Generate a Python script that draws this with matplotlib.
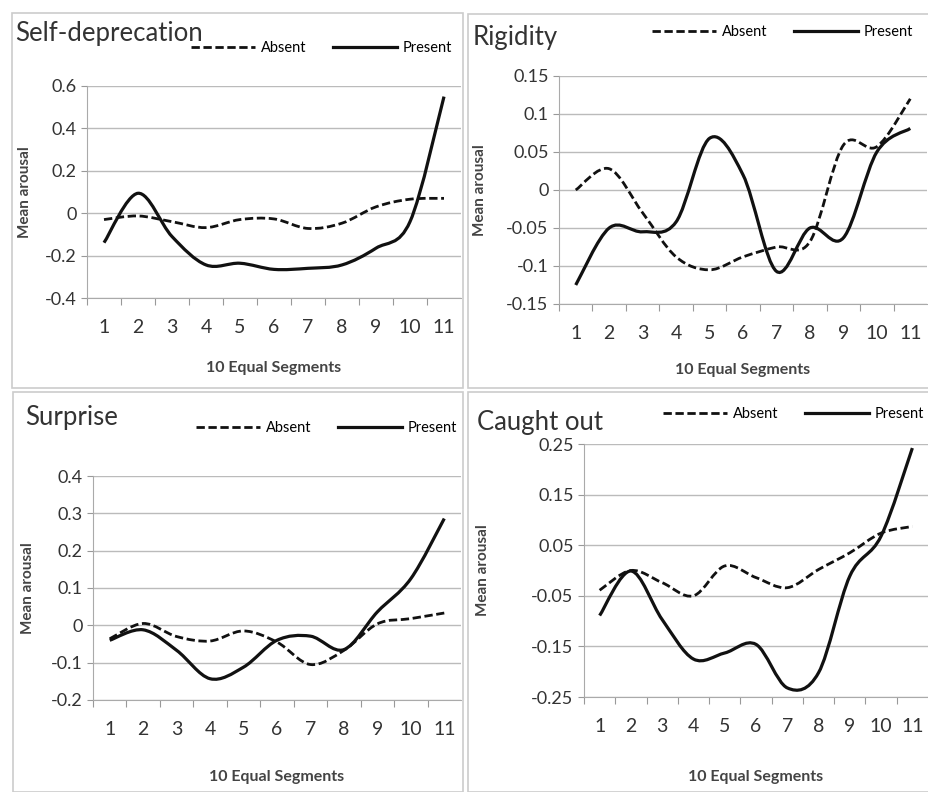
import matplotlib.pyplot as plt
from matplotlib.path import Path
from matplotlib.patches import PathPatch, Rectangle
from matplotlib.lines import Line2D

W, H = 929, 792

# segments on the x axis
segments = [1, 2, 3, 4, 5, 6, 7, 8, 9, 10, 11]

# mean arousal values
selfdep_absent = [-0.03, -0.013, -0.04, -0.068, -0.03, -0.027, -0.072, -0.047, 0.03, 0.066, 0.07]
selfdep_present = [-0.139, 0.094, -0.11, -0.244, -0.236, -0.265, -0.26, -0.244, -0.165, -0.04, 0.55]

rigidity_absent = [0.0, 0.028, -0.03, -0.088, -0.105, -0.088, -0.075, -0.068, 0.059, 0.057, 0.12]
rigidity_present = [-0.125, -0.05, -0.055, -0.042, 0.068, 0.02, -0.107, -0.05, -0.063, 0.05, 0.081]

surprise_absent = [-0.036, 0.005, -0.03, -0.042, -0.015, -0.045, -0.105, -0.067, 0.004, 0.018, 0.033]
surprise_present = [-0.04, -0.012, -0.067, -0.143, -0.112, -0.04, -0.029, -0.065, 0.036, 0.125, 0.286]

caught_absent = [-0.039, 0.0, -0.024, -0.05, 0.009, -0.014, -0.034, 0.002, 0.035, 0.074, 0.087]
caught_present = [-0.089, -0.001, -0.097, -0.175, -0.163, -0.146, -0.232, -0.202, -0.011, 0.068, 0.242]

# y tick values for each panel
selfdep_ticks = [-0.4, -0.2, 0, 0.2, 0.4, 0.6]
selfdep_labels = ["-0.4", "-0.2", "0", "0.2", "0.4", "0.6"]
rigidity_ticks = [-0.15, -0.1, -0.05, 0, 0.05, 0.1, 0.15]
rigidity_labels = ["-0.15", "-0.1", "-0.05", "0", "0.05", "0.1", "0.15"]
surprise_ticks = [-0.2, -0.1, 0, 0.1, 0.2, 0.3, 0.4]
surprise_labels = ["-0.2", "-0.1", "0", "0.1", "0.2", "0.3", "0.4"]
caught_ticks = [-0.25, -0.15, -0.05, 0.05, 0.15, 0.25]
caught_labels = ["-0.25", "-0.15", "-0.05", "0.05", "0.15", "0.25"]


def smooth_path(xs, ys):
    # excel style smoothed line: bezier through every point
    n = len(xs)
    verts = [(xs[0], ys[0])]
    codes = [Path.MOVETO]
    for i in range(n - 1):
        x0, y0 = xs[max(i - 1, 0)], ys[max(i - 1, 0)]
        x1, y1 = xs[i], ys[i]
        x2, y2 = xs[i + 1], ys[i + 1]
        x3, y3 = xs[min(i + 2, n - 1)], ys[min(i + 2, n - 1)]
        c1 = (x1 + (x2 - x0) / 6, y1 + (y2 - y0) / 6)
        c2 = (x2 - (x3 - x1) / 6, y2 - (y3 - y1) / 6)
        verts += [c1, c2, (x2, y2)]
        codes += [Path.CURVE4] * 3
    return Path(verts, codes)


def fig_box(left, top, right, bottom):
    return [left / W, 1 - bottom / H, (right - left) / W, (bottom - top) / H]


fig = plt.figure(figsize=(W / 100, H / 100), dpi=100)
plt.rcParams['font.family'] = ['Lato', 'DejaVu Sans']

# grey frames round each panel
for (l, t, r, b) in [(12, 13, 463, 388), (468, 14, 929, 388),
                     (13, 392, 463, 792), (468, 392, 929, 792)]:
    fig.patches.append(Rectangle((l / W, 1 - b / H), (r - l) / W, (b - t) / H,
                                 transform=fig.transFigure, fill=False,
                                 edgecolor="#cccccc", linewidth=1.2))

# title, data, ticks, axes box, title pos, legend right end, x label y, y label x
panels = [
    ("Self-deprecation", selfdep_absent, selfdep_present, selfdep_ticks, selfdep_labels,
     (87, 86, 461, 298), (15, 33), (452, 48), 368, 25),
    ("Rigidity", rigidity_absent, rigidity_present, rigidity_ticks, rigidity_labels,
     (559, 76, 927, 304), (473, 38), (913, 32), 370, 480),
    ("Surprise", surprise_absent, surprise_present, surprise_ticks, surprise_labels,
     (93, 476, 461, 700), (25, 417), (457, 428), 777, 28),
    ("Caught out", caught_absent, caught_present, caught_ticks, caught_labels,
     (584, 444, 928, 697), (477, 422), (924, 414), 777, 483),
]

for title, absent, present, yt, ylab, box, tpos, lpos, xlab_y, ylab_x in panels:
    ax = fig.add_axes(fig_box(*box))
    ax.add_patch(PathPatch(smooth_path(segments, absent), fill=False,
                           edgecolor="#111111", linewidth=2, linestyle=(0, (3, 1.3))))
    ax.add_patch(PathPatch(smooth_path(segments, present), fill=False,
                           edgecolor="#111111", linewidth=2.3))
    ax.set_xlim(0.5, 11.5)
    ax.set_ylim(yt[0], yt[-1])

    # category labels sit between the tick marks
    ax.set_xticks([s - 0.5 for s in segments])
    ax.set_xticklabels([])
    ax.set_xticks(segments, minor=True)
    ax.set_xticklabels([str(s) for s in segments], minor=True, fontsize=14, color="#333333")
    ax.tick_params(axis="x", which="major", length=5, color="#999999", direction="out")
    ax.tick_params(axis="x", which="minor", length=0, pad=15)

    ax.set_yticks(yt)
    ax.set_yticklabels(ylab, fontsize=13, color="#333333")
    ax.tick_params(axis="y", length=4, color="#999999")
    ax.yaxis.grid(True, color="#bbbbbb", linewidth=1)
    ax.set_axisbelow(True)

    for side in ["top", "right"]:
        ax.spines[side].set_visible(False)
    ax.spines["left"].set_color("#aaaaaa")
    ax.spines["bottom"].set_color("#aaaaaa")

    fig.text(tpos[0] / W, 1 - tpos[1] / H, title, fontsize=18.5, color="#333333",
             va="center", ha="left")
    fig.text((box[0] + box[2]) / 2 / W, 1 - xlab_y / H, "10 Equal Segments",
             fontsize=11.5, fontweight="bold", color="#444444", ha="center", va="center")
    fig.text(ylab_x / W, 1 - (box[1] + box[3]) / 2 / H, "Mean arousal",
             fontsize=11, fontweight="bold", color="#444444", rotation=90,
             ha="center", va="center")

    handles = [Line2D([], [], color="#111111", linewidth=2, linestyle=(0, (3, 1.3))),
               Line2D([], [], color="#111111", linewidth=2.3)]
    ax.legend(handles, ["Absent", "Present"], ncol=2, frameon=False, fontsize=10.5,
              loc="center right", bbox_to_anchor=(lpos[0] / W, 1 - lpos[1] / H),
              bbox_transform=fig.transFigure, handlelength=4.4, handletextpad=0.4,
              columnspacing=1.8, borderpad=0, borderaxespad=0)

fig.savefig("out.png", dpi=100)
